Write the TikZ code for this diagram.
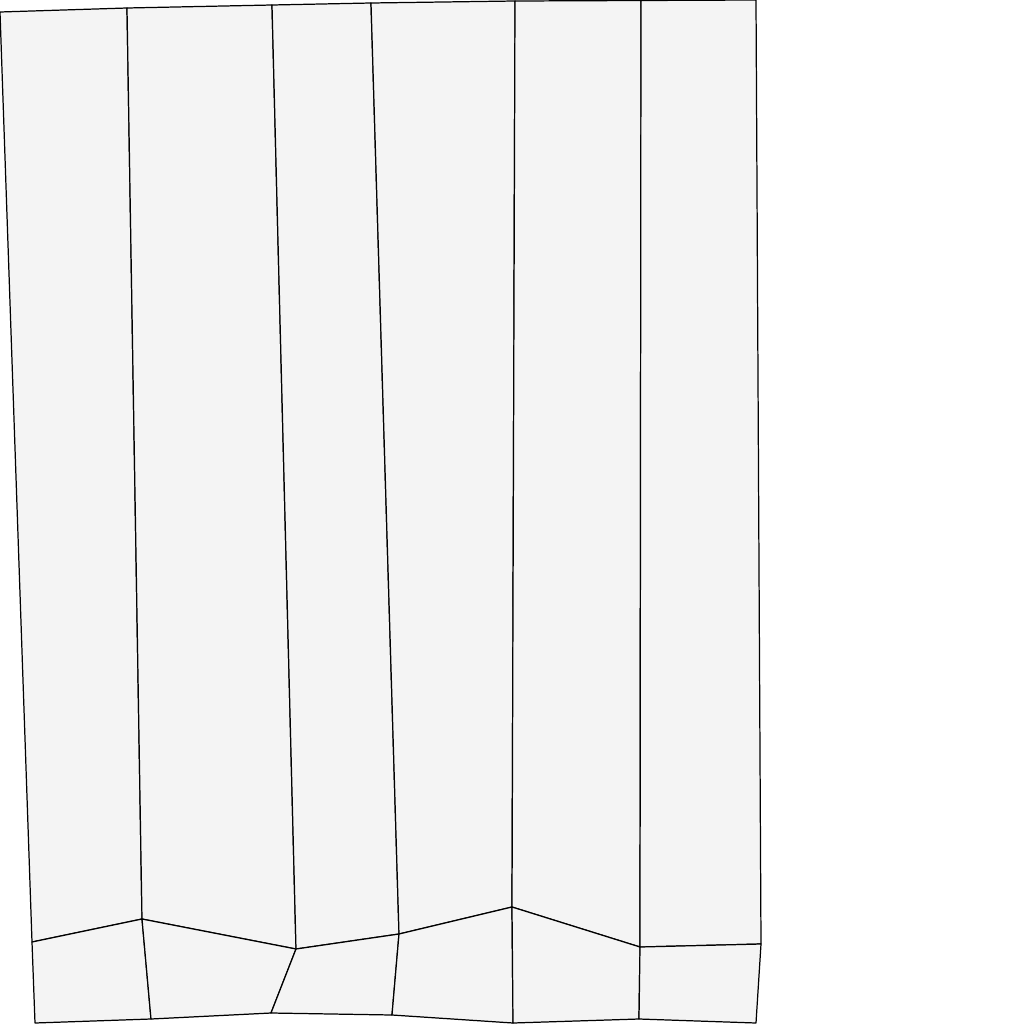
\documentclass[tikz,border=0pt]{standalone}
\begin{document}
\begin{tikzpicture}[x=0.01cm,y=-0.01cm,
  cell/.style={fill=cellgray,draw=black,line width=0.35pt,line join=round}]
\definecolor{cellgray}{HTML}{F4F4F4}
\useasboundingbox (0,0) rectangle (1024,1024);
% top row
\coordinate (t0) at (0,12);
\coordinate (t1) at (127,8);
\coordinate (t2) at (272,5);
\coordinate (t3) at (371,3);
\coordinate (t4) at (515,1);
\coordinate (t5) at (641,0.5);
\coordinate (t6) at (756,0);
% middle row
\coordinate (m0) at (32,942);
\coordinate (m1) at (142,919);
\coordinate (m2) at (296,949);
\coordinate (m3) at (399,934);
\coordinate (m4) at (512,907);
\coordinate (m5) at (640,947);
\coordinate (m6) at (761,944);
% bottom row
\coordinate (b0) at (35,1023);
\coordinate (b1) at (151,1019);
\coordinate (b2) at (271,1013);
\coordinate (b3) at (392,1015);
\coordinate (b4) at (513,1023);
\coordinate (b5) at (639,1019);
\coordinate (b6) at (756,1023);
% upper cells
\foreach \i/\j in {0/1,1/2,2/3,3/4,4/5,5/6}{
  \draw[cell] (t\i) -- (t\j) -- (m\j) -- (m\i) -- cycle;
  \draw[cell] (m\i) -- (m\j) -- (b\j) -- (b\i) -- cycle;
}
\end{tikzpicture}
\end{document}
